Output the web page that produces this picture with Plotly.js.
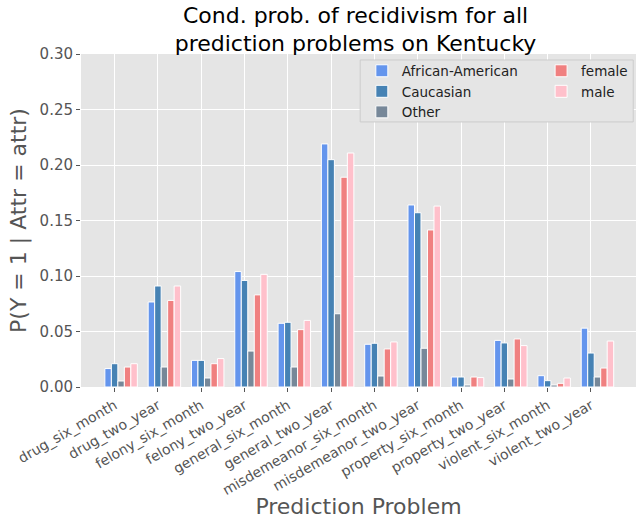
<!DOCTYPE html>
<html>
<head>
<meta charset="utf-8">
<script src="https://cdn.plot.ly/plotly-3.0.1.min.js"></script>
<style>html,body{margin:0;padding:0;background:#fff;}#chart{width:636px;height:519px;}</style>
</head>
<body>
<div id="chart"></div>
<script>
const problems = ["drug_six_month","drug_two_year","felony_six_month","felony_two_year","general_six_month","general_two_year","misdemeanor_six_month","misdemeanor_two_year","property_six_month","property_two_year","violent_six_month","violent_two_year"];
const africanAmerican = [0.0166,0.0766,0.024,0.104,0.0574,0.219,0.0385,0.164,0.009,0.042,0.0102,0.053];
const caucasian       = [0.021,0.091,0.024,0.096,0.0583,0.2048,0.0394,0.157,0.009,0.0397,0.0057,0.0306];
const other           = [0.0054,0.018,0.0081,0.0324,0.018,0.066,0.0099,0.0349,0.0018,0.0072,0.0018,0.009];
const female          = [0.018,0.078,0.021,0.083,0.0517,0.189,0.0343,0.1415,0.009,0.0433,0.0033,0.0171];
const male            = [0.021,0.091,0.0256,0.1015,0.060,0.2108,0.0406,0.163,0.0085,0.0373,0.0081,0.0414];

const W = 0.15;
function bar(name, y, color, center, legend){
  return {type:'bar', name:name, x:problems, y:y, width:W, offset:center - W/2,
    marker:{color:color, line:{color:'#ffffff', width:1}}, legend:legend, hoverinfo:'y'};
}
const data = [
  bar('African-American', africanAmerican, '#6495ED', -0.15, 'legend'),
  bar('Caucasian', caucasian, '#4682B4', 0.0, 'legend'),
  bar('Other', other, '#778899', 0.15, 'legend'),
  bar('female', female, '#F08080', 0.30, 'legend2'),
  bar('male', male, '#FFC0CB', 0.45, 'legend2')
];
const legendBase = {bgcolor:'rgba(0,0,0,0)', borderwidth:0, font:{family:'DejaVu Sans', size:13.5, color:'#222222'},
  xref:'paper', yref:'paper', yanchor:'top', xanchor:'left', traceorder:'normal', itemwidth:30};
const layout = {
  width:636, height:519,
  margin:{l:81, r:0, t:54, b:132},
  paper_bgcolor:'#ffffff', plot_bgcolor:'#E5E5E5',
  barmode:'overlay',
  font:{family:'DejaVu Sans', color:'#555555'},
  title:{text:'Cond. prob. of recidivism for all<br>prediction problems on Kentucky', font:{family:'DejaVu Sans', size:22, color:'#000000'},
    xref:'container', yref:'container', x:0.559, xanchor:'center', y:0.956, yanchor:'middle'},
  xaxis:{type:'category', range:[-0.776, 12.04], tickangle:-30, ticks:'outside', ticklen:4, tickcolor:'#555555',
    tickfont:{family:'DejaVu Sans', size:14, color:'#555555'}, showgrid:true, gridcolor:'#ffffff', gridwidth:1,
    zeroline:false, showline:false,
    title:{text:'Prediction Problem', font:{family:'DejaVu Sans', size:22, color:'#555555'}, standoff:4}},
  yaxis:{range:[0,0.30], dtick:0.05, tickformat:'.2f', ticks:'outside', ticklen:4, tickcolor:'#555555',
    tickfont:{family:'DejaVu Sans', size:15, color:'#555555'}, showgrid:true, gridcolor:'#ffffff', gridwidth:1,
    zeroline:false, showline:false,
    title:{text:'P(Y = 1 | Attr = attr)', font:{family:'DejaVu Sans', size:22, color:'#555555'}, standoff:6}},
  legend:Object.assign({}, legendBase, {x:0.506, y:0.9955}),
  legend2:Object.assign({}, legendBase, {x:0.829, y:0.9955}),
  shapes:[{type:'rect', xref:'paper', yref:'paper', x0:0.503, x1:0.995, y0:0.796, y1:0.982,
    fillcolor:'#E5E5E5', line:{color:'#CCCCCC', width:1}, layer:'above'}],
  showlegend:true
};
Plotly.newPlot('chart', data, layout, {displayModeBar:false, staticPlot:true});
</script>
</body>
</html>
